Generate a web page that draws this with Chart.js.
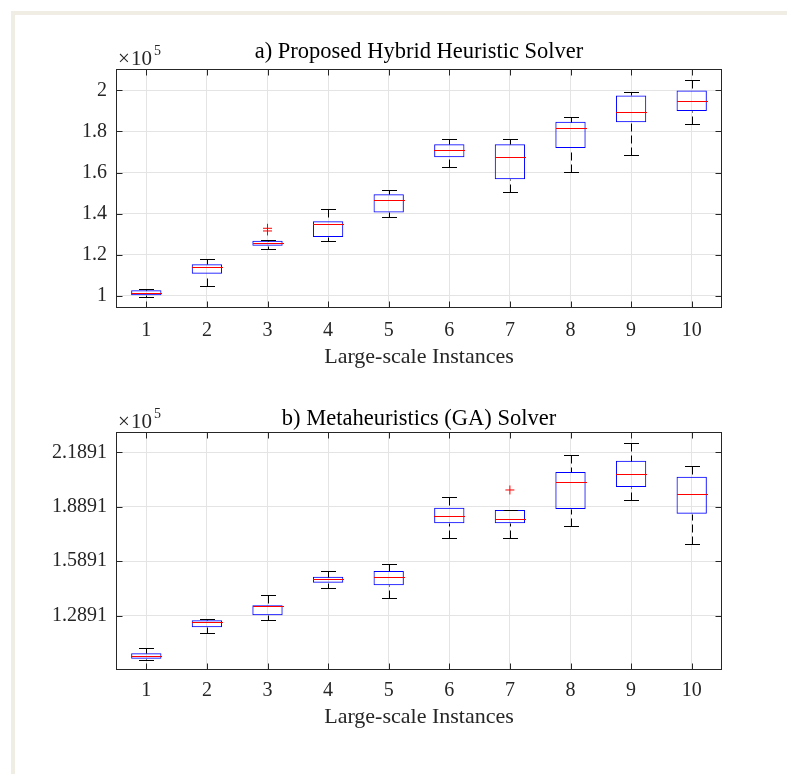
<!DOCTYPE html>
<html>
<head>
<meta charset="utf-8">
<script src="https://cdn.jsdelivr.net/npm/chart.js@4.4.1/dist/chart.umd.min.js"></script>
<style>
html,body{margin:0;padding:0;background:#fff;width:787px;height:774px;overflow:hidden;}
#frame{position:absolute;left:11px;top:11px;width:776px;height:763px;border-top:4px solid #efede4;border-left:4px solid #efede4;box-sizing:border-box;}
canvas{position:absolute;left:0;}
#c1{top:0;}
#c2{top:385px;}
</style>
</head>
<body>
<div id="frame"></div>
<canvas id="c1" width="787" height="385"></canvas>
<canvas id="c2" width="787" height="389"></canvas>
<script>
// ---------- data ----------
const categories = ['1','2','3','4','5','6','7','8','9','10'];

// a) Proposed Hybrid Heuristic Solver
const hybridMin = [99350, 105000, 122800, 126700, 138400, 162700, 150700, 160200, 168500, 183700];
const hybridQ1  = [100300, 110850, 124450, 128700, 140600, 167500, 156700, 171900, 184400, 189900];
const hybridMed = [101460, 113900, 125600, 134800, 146600, 170800, 167700, 181900, 189400, 194700];
const hybridQ3  = [102750, 115400, 126900, 136300, 149400, 173800, 173800, 184700, 197500, 199900];
const hybridMax = [103200, 118000, 127000, 142100, 151700, 176100, 176100, 187100, 199400, 204900];
const hybridOutliers = [{x:'3', y:132900}, {x:'3', y:131600}];

// b) Metaheuristics (GA) Solver
const gaMin = [104660, 119360, 126340, 143970, 138460, 171900, 171710, 178510, 192650, 168220];
const gaQ1  = [105210, 122480, 129100, 147100, 145630, 179790, 179790, 187690, 199810, 185120];
const gaMed = [106680, 125240, 134050, 148930, 150220, 183650, 182360, 202570, 206980, 195770];
const gaQ3  = [108150, 126340, 134600, 150400, 153520, 188420, 187140, 208080, 214330, 205510];
const gaMax = [111090, 126890, 140110, 153340, 157380, 194300, 187320, 217260, 224060, 211390];
const gaOutliers = [{x:'7', y:198160}];

// tick values and labels (values shown x10^5)
const hybridTickValues = [100000, 120000, 140000, 160000, 180000, 200000];
const hybridTickLabels = ['1', '1.2', '1.4', '1.6', '1.8', '2'];
const gaTickValues = [128910, 158910, 188910, 218910];
const gaTickLabels = ['1.2891', '1.5891', '1.8891', '2.1891'];

const xTitle = 'Large-scale Instances';
// ---------------------------

Chart.defaults.font.family = "'Liberation Serif', 'Times New Roman', serif";

function boxPlugin(stats) {
  const px = v => Math.round(v) + 0.5;
  return {
    id: 'boxWhiskers',
    afterDatasetsDraw(chart) {
      const ctx = chart.ctx, xs = chart.scales.x, ys = chart.scales.y;
      const meta = chart.getDatasetMeta(0);
      ctx.save();
      ctx.lineWidth = 1;
      categories.forEach((c, i) => {
        const bar = meta.data[i];
        const cx = px(xs.getPixelForValue(i));
        const hw = bar.width / 2;
        const yMin = px(ys.getPixelForValue(stats.min[i]));
        const yMax = px(ys.getPixelForValue(stats.max[i]));
        const yQ1 = px(ys.getPixelForValue(stats.q1[i]));
        const yQ3 = px(ys.getPixelForValue(stats.q3[i]));
        const yMed = px(ys.getPixelForValue(stats.med[i]));
        ctx.strokeStyle = '#000';
        ctx.setLineDash([8, 4]);
        ctx.beginPath();
        if (yMax < yQ3) { ctx.moveTo(cx, yMax); ctx.lineTo(cx, yQ3); }
        if (yMin > yQ1) { ctx.moveTo(cx, yMin); ctx.lineTo(cx, yQ1); }
        ctx.stroke();
        ctx.setLineDash([]);
        ctx.beginPath();
        ctx.moveTo(Math.round(cx - hw / 2), yMax); ctx.lineTo(Math.round(cx + hw / 2), yMax);
        ctx.moveTo(Math.round(cx - hw / 2), yMin); ctx.lineTo(Math.round(cx + hw / 2), yMin);
        ctx.stroke();
        ctx.strokeStyle = '#ff0000';
        ctx.beginPath();
        ctx.moveTo(Math.round(cx - hw), yMed); ctx.lineTo(Math.round(cx + hw), yMed);
        ctx.stroke();
      });
      ctx.restore();
    },
    afterDraw(chart) {
      const ctx = chart.ctx, a = chart.chartArea, xs = chart.scales.x, ys = chart.scales.y;
      const L = Math.round(a.left) + 0.5, R = Math.round(a.right) - 0.5;
      const T = Math.round(a.top) + 0.5, B = Math.round(a.bottom) - 0.5;
      ctx.save();
      ctx.strokeStyle = '#262626';
      ctx.lineWidth = 1;
      ctx.strokeRect(L, T, R - L, B - T);
      ctx.beginPath();
      ys.ticks.forEach(t => {
        const yy = px(ys.getPixelForValue(t.value));
        ctx.moveTo(L, yy); ctx.lineTo(L + 6, yy);
        ctx.moveTo(R, yy); ctx.lineTo(R - 6, yy);
      });
      categories.forEach((c, i) => {
        const xx = px(xs.getPixelForValue(i));
        ctx.moveTo(xx, B); ctx.lineTo(xx, B - 6);
        ctx.moveTo(xx, T); ctx.lineTo(xx, T + 6);
      });
      ctx.stroke();
      // exponent label
      ctx.fillStyle = '#262626';
      ctx.textBaseline = 'alphabetic';
      ctx.textAlign = 'left';
      ctx.font = "21px 'Liberation Serif', serif";
      const base = a.top - 4;
      ctx.fillText('\u00d7', a.left + 2, base);
      ctx.fillText('10', a.left + 15, base);
      ctx.font = "14px 'Liberation Serif', serif";
      ctx.fillText('5', a.left + 38, base - 10);
      ctx.restore();
    }
  };
}

function makeChart(id, title, stats, outliers, tickValues, tickLabels, yMin, yMax, L) {
  return new Chart(document.getElementById(id), {
    data: {
      labels: categories,
      datasets: [
        {
          type: 'bar',
          data: stats.q1.map((v, i) => [v, stats.q3[i]]),
          backgroundColor: 'rgba(0,0,0,0)',
          borderColor: '#0000ff',
          borderWidth: 1,
          borderSkipped: false,
          barPercentage: 0.5,
          categoryPercentage: 1.0
        },
        {
          type: 'line',
          data: outliers,
          showLine: false,
          pointStyle: 'cross',
          pointRadius: 4.5,
          pointBorderColor: '#ff0000',
          pointBorderWidth: 1,
          borderColor: '#ff0000'
        }
      ]
    },
    options: {
      responsive: false,
      animation: false,
      layout: { padding: { left: 0, right: 65, top: 0, bottom: L.padBottom } },
      plugins: {
        legend: { display: false },
        tooltip: { enabled: false },
        title: {
          display: true, text: title, fullSize: false, color: '#000',
          font: { size: 22.5, weight: 'normal', lineHeight: 1.1 },
          padding: { top: L.titleTop, bottom: L.titleBottom }
        }
      },
      scales: {
        x: {
          type: 'category',
          offset: true,
          grid: { offset: false, color: '#e4e4e4', drawTicks: false },
          border: { display: false },
          ticks: { color: '#262626', font: { size: 20 }, padding: L.xTickPad, maxRotation: 0, autoSkip: false },
          title: { display: true, text: xTitle, color: '#262626', font: { size: 22 }, padding: 0 },
          afterFit: s => { s.height = L.xHeight; }
        },
        y: {
          type: 'linear',
          min: yMin, max: yMax,
          grid: { color: '#e4e4e4', drawTicks: false },
          border: { display: false },
          ticks: { color: '#262626', font: { size: 20 }, padding: 9, callback: (v, i) => tickLabels[i] },
          afterBuildTicks: s => { s.ticks = tickValues.map(v => ({ value: v })); },
          afterFit: s => { s.width = 116; }
        }
      }
    },
    plugins: [boxPlugin(stats)]
  });
}

makeChart('c1', 'a) Proposed Hybrid Heuristic Solver',
  { min: hybridMin, q1: hybridQ1, med: hybridMed, q3: hybridQ3, max: hybridMax },
  hybridOutliers, hybridTickValues, hybridTickLabels, 94000, 210200,
  { padBottom: 14.2, titleTop: 40.0, titleBottom: 4.55, xTickPad: 10.5, xHeight: 62.5 });

makeChart('c2', 'b) Metaheuristics (GA) Solver',
  { min: gaMin, q1: gaQ1, med: gaMed, q3: gaQ3, max: gaMax },
  gaOutliers, gaTickValues, gaTickLabels, 98970, 229940,
  { padBottom: 43.2, titleTop: 21.7, titleBottom: 0.85, xTickPad: 8.8, xHeight: 60.8 });
</script>
</body>
</html>
